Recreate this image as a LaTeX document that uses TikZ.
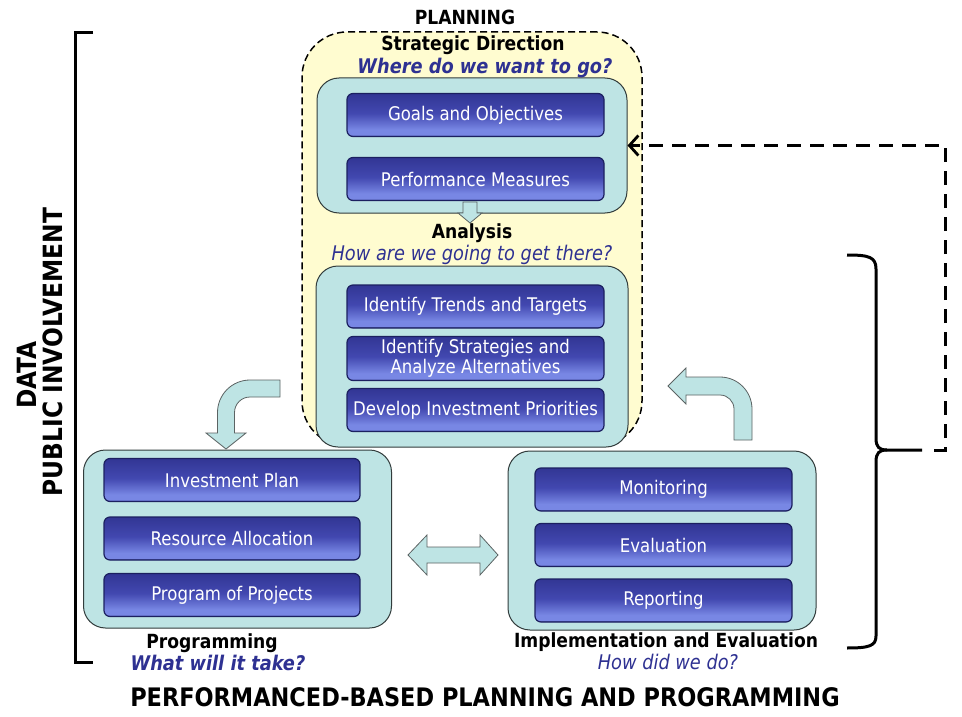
\documentclass[tikz,border=0pt]{standalone}
\usepackage{fontspec}
\setmainfont{DejaVu Sans}[FakeStretch=0.88]
\usetikzlibrary{arrows.meta}
\definecolor{qblue}{RGB}{46,49,146}
\definecolor{cyanf}{RGB}{190,228,228}
\definecolor{yellowf}{RGB}{255,252,208}
\definecolor{boxline}{RGB}{50,60,60}
\definecolor{bdark}{RGB}{36,40,120}
\definecolor{blight}{RGB}{120,135,228}
\definecolor{bmid}{RGB}{66,72,176}
\definecolor{btop}{RGB}{50,54,148}
\definecolor{bborder}{RGB}{28,32,96}
\pgfdeclareverticalshading{btnshade}{100bp}{color(0bp)=(bdark); color(25bp)=(bdark); color(27bp)=(blight); color(33bp)=(blight); color(52bp)=(bmid); color(75bp)=(btop); color(100bp)=(btop)}
\newcommand{\btnfont}{\fontsize{18.8}{20.5}\selectfont\color{white}}
\newcommand{\hdfont}{\fontsize{19.5}{21}\selectfont\bfseries}
\begin{document}
\begin{tikzpicture}[x=1pt,y=-1pt,
  btn/.style={rounded corners=6pt, draw=bborder, line width=1.2pt, shading=btnshade,
    minimum width=257pt, minimum height=43pt, inner sep=0pt, font=\btnfont, align=center},
  cbox/.style={rounded corners=22pt, draw=boxline, fill=cyanf, line width=1pt, inner sep=0pt},
  hd/.style={font=\hdfont, inner sep=0pt},
  qb/.style={font=\fontsize{20.2}{22}\selectfont\bfseries\itshape, text=qblue, inner sep=0pt},
  qr/.style={font=\fontsize{20.2}{22}\selectfont\itshape, text=qblue, inner sep=0pt},
  blockarrow/.style={fill=cyanf, draw=boxline!80, line width=0.8pt, line join=miter},
  fb/.style={line width=3pt, dash pattern=on 14pt off 9pt},
  brk/.style={line width=3pt},
  side/.style={font=\fontsize{26.5}{28}\selectfont\bfseries, rotate=90, inner sep=0pt}
]
\useasboundingbox (0,0) rectangle (962,717);
\fill[white] (0,0) rectangle (962,717);

% planning area
\node[draw, fill=yellowf, line width=1.5pt, dash pattern=on 7pt off 4pt, rounded corners=45pt,
  minimum width=340pt, minimum height=414pt, inner sep=0pt] (plan) at (472,239) {};

% boxes
\node[cbox, minimum width=310pt, minimum height=135pt] (sd) at (472,145.5) {};
\node[cbox, minimum width=312pt, minimum height=181pt] (an) at (472,356.5) {};
\node[cbox, minimum width=308pt, minimum height=178pt] (pg) at (237.5,539) {};
\node[cbox, minimum width=308pt, minimum height=179pt] (ie) at (662,540.5) {};

% buttons
\node[btn] (goals) at (475.5,115) {Goals and Objectives};
\node[btn] (perf) at (475.5,179) {Performance Measures};
\node[btn] (trend) at (475.5,306.5) {Identify Trends and Targets};
\node[btn, minimum height=44pt] (strat) at (475.5,358.5) {Identify Strategies and\\[-1pt]Analyze Alternatives};
\node[btn] (dev) at (475.5,410) {Develop Investment Priorities};
\node[btn, minimum width=256pt] (ip) at (232,480) {Investment Plan};
\node[btn, minimum width=256pt] (ra) at (232,538.5) {Resource Allocation};
\node[btn, minimum width=256pt] (pp) at (232,595) {Program of Projects};
\node[btn] (mon) at (663.5,489.5) {Monitoring};
\node[btn] (eval) at (663.5,545) {Evaluation};
\node[btn] (rep) at (663.5,600.5) {Reporting};

% labels
\node[hd] (planning) at (465,17) {PLANNING};
\node[hd] (sdir) at (473,45) {Strategic Direction};
\node[qb] (q1) at (485,68) {Where do we want to go?};
\node[hd] (anl) at (472,233) {Analysis};
\node[qr] (q2) at (472,255) {How are we going to get there?};
\node[hd] (prl) at (212,643) {Programming};
\node[qb] (q3) at (218,663) {What will it take?};
\node[hd] (iel) at (666,642) {Implementation and Evaluation};
\node[qr] (q4) at (668,662) {How did we do?};
\node[font=\fontsize{25.5}{28}\selectfont\bfseries, inner sep=0pt] (title) at (485,697) {PERFORMANCED-BASED PLANNING AND PROGRAMMING};
\node[side] (data) at (27,375) {DATA};
\node[side] (pub) at (53,352) {PUBLIC INVOLVEMENT};

% small down arrow
\draw[blockarrow] (463,202) -- (477,202) -- (477,213) -- (482,213) -- (470,223) -- (458,213) -- (463,213) -- cycle;

% curved arrow analysis -> programming
\draw[blockarrow] (280,380) -- (250,380) .. controls (232.05,380) and (217.5,394.55) .. (217.5,412.5)
  -- (217.5,433) -- (206,433) -- (226,449) -- (246,433) -- (234.5,433) -- (234.5,412.5)
  .. controls (234.5,403.94) and (241.44,397) .. (250,397) -- (280,397) -- cycle;

% curved arrow implementation -> analysis
\draw[blockarrow] (734,440) -- (734,409) .. controls (734,401.27) and (727.73,395) .. (720,395)
  -- (686,395) -- (686,404) -- (668,386) -- (686,368) -- (686,377) -- (720,377)
  .. controls (737.67,377) and (752,391.33) .. (752,409) -- (752,440) -- cycle;

% double arrow
\draw[blockarrow] (408,555) -- (427,535) -- (427,547) -- (480,547) -- (480,535) -- (498,555)
  -- (480,575) -- (480,563) -- (427,563) -- (427,575) -- cycle;

% left bracket
\draw[brk] (93,33) -- (75,33) -- (75,662) -- (93,662);

% right brace
\coordinate (bt) at (922,450);
\draw[brk] (847,255) .. controls (869,255) and (876,257) .. (876,269) -- (876,438)
  .. controls (876,447) and (879,450) .. (887,450) -- (bt);
\draw[brk] (887,450) .. controls (879,450) and (876,453) .. (876,462) -- (876,636)
  .. controls (876,646) and (869,648) .. (847,648);

% feedback dashed arrow
\draw[fb, -{Straight Barb[length=9pt,width=20pt,line width=2.8pt]}] (bt) ++(12,0) -- (945,450) |- (sd.east);
\end{tikzpicture}
\end{document}
